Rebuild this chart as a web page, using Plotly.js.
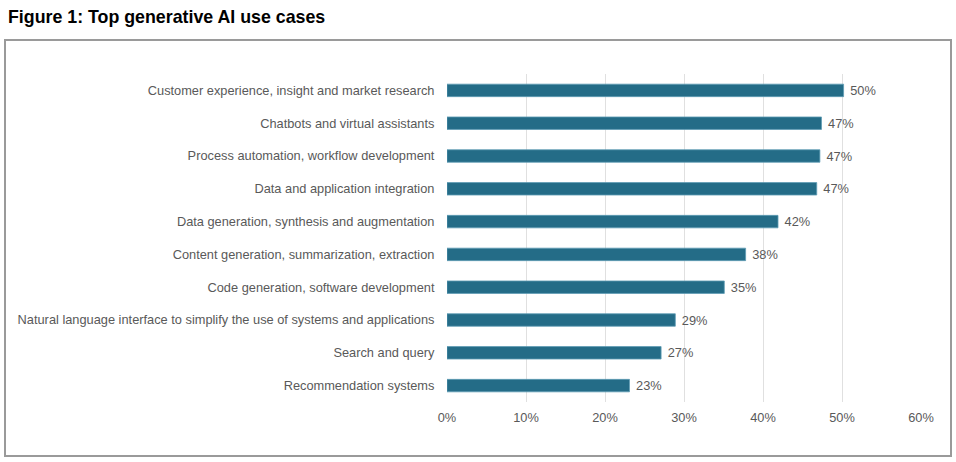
<!DOCTYPE html>
<html>
<head>
<meta charset="utf-8">
<script src="https://cdn.plot.ly/plotly-3.0.1.min.js"></script>
<style>
  html, body { margin: 0; padding: 0; background: #fff; }
  #chart { width: 956px; height: 462px; }
</style>
</head>
<body>
<div id="chart"></div>
<script>
const categories = [
  "Customer experience, insight and market research",
  "Chatbots and virtual assistants",
  "Process automation, workflow development",
  "Data and application integration",
  "Data generation, synthesis and augmentation",
  "Content generation, summarization, extraction",
  "Code generation, software development",
  "Natural language interface to simplify the use of systems and applications",
  "Search and query",
  "Recommendation systems"
];
const values = [50.2, 47.4, 47.2, 46.8, 41.9, 37.8, 35.1, 28.9, 27.1, 23.1];
const valueLabels = ["50%", "47%", "47%", "47%", "42%", "38%", "35%", "29%", "27%", "23%"];
const xTickVals = [0, 10, 20, 30, 40, 50, 60];
const xTickText = ["0%", "10%", "20%", "30%", "40%", "50%", "60%"];
const titleText = "Figure 1: Top generative AI use cases";

const W = 956, H = 462;
const m = { l: 447, r: 35, t: 74, b: 60 };
const pw = W - m.l - m.r, ph = H - m.t - m.b;
const px = x => (x - m.l) / pw;
const py = y => 1 - (y - m.t) / ph;

const trace = {
  type: "bar",
  orientation: "h",
  y: categories,
  x: values,
  text: valueLabels.map(s => " " + s),
  textposition: "outside",
  constraintext: "none",
  cliponaxis: false,
  textfont: { family: "Liberation Sans, Arial, sans-serif", size: 12.8, color: "#595959" },
  marker: { color: "#246C87", line: { color: "#5E9CB4", width: 0.8 } },
  width: 0.38,
  hoverinfo: "skip"
};

const layout = {
  width: W, height: H,
  margin: m,
  paper_bgcolor: "#ffffff",
  plot_bgcolor: "#ffffff",
  showlegend: false,
  font: { family: "Liberation Sans, Arial, sans-serif", color: "#595959", size: 12.8 },
  title: {
    text: "<b>" + titleText + "</b>",
    font: { family: "Liberation Sans, Arial, sans-serif", size: 17.8, color: "#000000" },
    xref: "container", yref: "container",
    x: 8 / W, xanchor: "left",
    y: 1 - 17 / H, yanchor: "middle"
  },
  xaxis: {
    range: [0, 60],
    tickvals: xTickVals,
    ticktext: xTickText,
    showgrid: true,
    gridcolor: "#e0e0e0",
    gridwidth: 1,
    zeroline: false,
    showline: false,
    ticks: "outside",
    ticklen: 4,
    tickcolor: "rgba(0,0,0,0)",
    tickfont: { size: 12.8, color: "#595959" },
    fixedrange: true
  },
  yaxis: {
    autorange: "reversed",
    showgrid: false,
    zeroline: false,
    showline: false,
    ticks: "outside",
    ticklen: 9,
    tickcolor: "rgba(0,0,0,0)",
    tickfont: { size: 12.8, color: "#595959" },
    fixedrange: true
  },
  shapes: [
    {
      type: "rect", xref: "paper", yref: "paper",
      x0: px(5), x1: px(951), y0: py(40), y1: py(456),
      line: { color: "#9a9a9a", width: 2 },
      fillcolor: "rgba(0,0,0,0)",
      layer: "below"
    }
  ]
};

Plotly.newPlot("chart", [trace], layout, { displayModeBar: false, staticPlot: true });
</script>
</body>
</html>
